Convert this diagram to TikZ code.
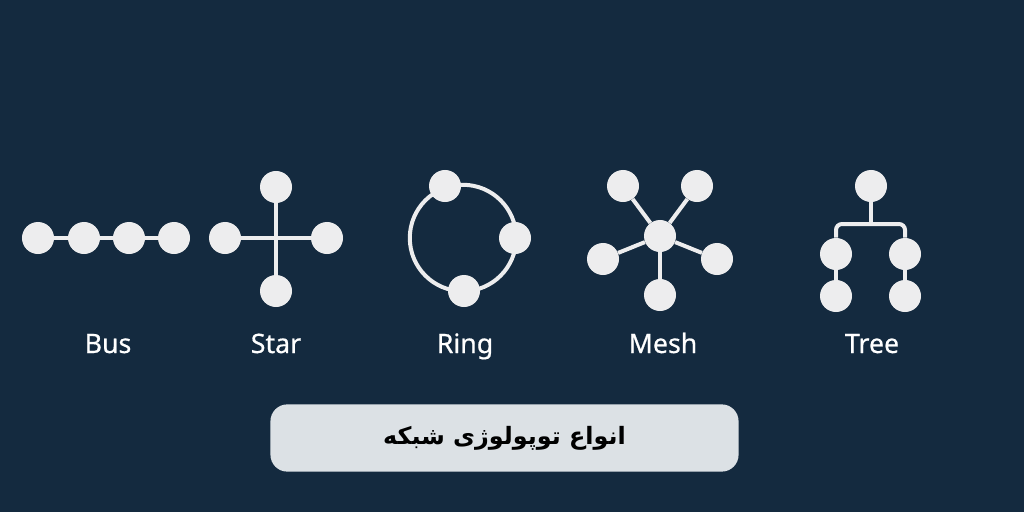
\documentclass[tikz,border=0pt]{standalone}
\usepackage{fontspec}
\setmainfont{Noto Sans}
\newfontfamily\lblfont[FakeBold=0.6]{Noto Sans}
\newfontfamily\farsifont[Script=Arabic]{DejaVu Sans}
\TeXXeTstate=1
\usetikzlibrary{positioning}

\definecolor{navy}{HTML}{142A3F}
\definecolor{pale}{HTML}{EDEDEE}
\definecolor{boxgrey}{HTML}{DCE1E5}

\tikzstyle{pc} = [circle, minimum width=0.8cm, fill=pale, inner sep=0pt]
\tikzstyle{link} = [draw=pale, line width=0.1cm]
\tikzstyle{lbl} = [text=white, anchor=base, font=\lblfont\fontsize{19}{21}\selectfont]

\begin{document}
\begin{tikzpicture}[x=0.025cm, y=-0.025cm]
    \fill[navy] (0, 0) rectangle (1024, 512);
    \useasboundingbox (0, 0) rectangle (1024, 512);

    % bus
    \node[pc] (B1) at (38, 238) {};
    \node[pc] (B2) at (84, 238) {};
    \node[pc] (B3) at (129, 238) {};
    \node[pc] (B4) at (174, 238) {};
    \path[link] (B1) -- (B2);
    \path[link] (B2) -- (B3);
    \path[link] (B3) -- (B4);
    \node[lbl] (LB) at (108, 353) {Bus};

    % star
    \coordinate (S0) at (276, 238);
    \node[pc] (S1) at (276, 187) {};
    \node[pc] (S2) at (225, 238) {};
    \node[pc] (S3) at (327, 238) {};
    \node[pc] (S4) at (276, 291) {};
    \path[link] (S0) -- (S1);
    \path[link] (S0) -- (S2);
    \path[link] (S0) -- (S3);
    \path[link] (S0) -- (S4);
    \node[lbl] (LS) at (276, 353) {Star};

    % ring
    \coordinate (RC) at (463, 238);
    \path[link] (RC) circle [radius=1.33cm];
    \node[pc] (R1) at (445, 186) {};
    \node[pc] (R2) at (515, 238) {};
    \node[pc] (R3) at (464, 291) {};
    \node[lbl] (LR) at (465, 353) {Ring};

    % mesh
    \node[pc] (M0) at (660, 236) {};
    \node[pc] (M1) at (623, 186) {};
    \node[pc] (M2) at (697, 186) {};
    \node[pc] (M3) at (603, 259) {};
    \node[pc] (M4) at (717, 259) {};
    \node[pc] (M5) at (660, 295) {};
    \path[link] (M0) -- (M1);
    \path[link] (M0) -- (M2);
    \path[link] (M0) -- (M3);
    \path[link] (M0) -- (M4);
    \path[link] (M0) -- (M5);
    \node[lbl] (LM) at (663, 353) {Mesh};

    % tree
    \node[pc] (T1) at (871, 186) {};
    \node[pc] (T2) at (836, 254) {};
    \node[pc] (T3) at (905, 254) {};
    \node[pc] (T4) at (836, 296) {};
    \node[pc] (T5) at (905, 296) {};
    \coordinate (TJ) at (871, 224);
    \path[link] (T1) -- (TJ);
    \path[link, rounded corners=0.15cm] (T2) |- (TJ) -| (T3);
    \path[link] (T2) -- (T4);
    \path[link] (T3) -- (T5);
    \node[lbl] (LT) at (872, 353) {Tree};

    % caption
    \node[fill=boxgrey, rounded corners=0.42cm, minimum width=11.7cm, minimum height=1.68cm] (CAP) at (504.5, 438) {};
    \node[font=\farsifont\bfseries\fontsize{17}{20}\selectfont, text=black] (CT) at (CAP) {\beginR انواع توپولوژی شبکه\endR};
  \end{tikzpicture}
\end{document}
